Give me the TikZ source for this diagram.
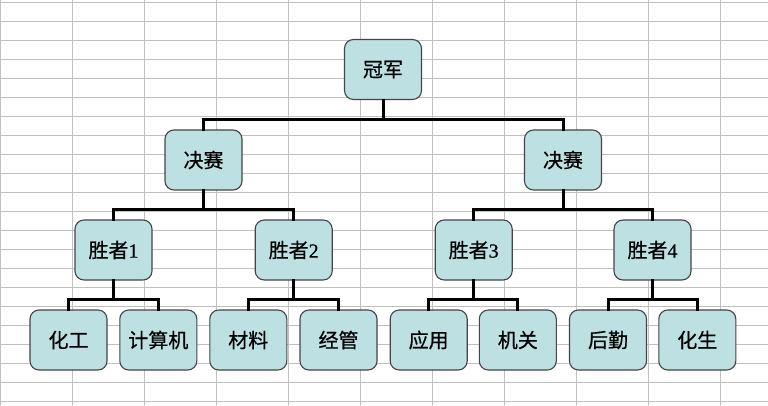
\documentclass[tikz,border=0pt]{standalone}
\usepackage{fontspec}
\setmainfont{Liberation Serif}
\newfontfamily\cjk[FakeBold=0.6]{Noto Sans CJK SC}
\newfontfamily\digitfont[FakeBold=0.6]{Liberation Serif}
\definecolor{boxfill}{HTML}{BDE0E3}
\definecolor{boxline}{HTML}{454545}
\definecolor{gridc}{HTML}{C0C0C0}
\begin{document}
\begin{tikzpicture}[x=1pt,y=-1pt,
  team/.style={draw=boxline,line width=1.1pt,fill=boxfill,rounded corners=9pt,
    minimum width=77pt,minimum height=60pt,inner sep=0pt,
    font=\fontsize{20}{20}\selectfont\cjk},
  conn/.style={draw=black,line width=3pt,line cap=rect},
  gridline/.style={draw=gridc,line width=1.1pt}]
\useasboundingbox (0,0) rectangle (768,406);
\fill[white] (0,0) rectangle (768,406);
% grid
\foreach \k in {0,...,21} \draw[gridline] (0,2.7+19*\k) -- (768,2.7+19*\k);
\draw[gridline] (0.5,0) -- (0.5,406);
\foreach \k in {1,...,10} \draw[gridline] (72.04*\k+0.3,0) -- (72.04*\k+0.3,406);
% nodes
\node[team] (g) at (383,69.5) {冠军};
\node[team] (j1) at (203.5,160) {决赛};
\node[team] (j2) at (563,160) {决赛};
\node[team] (w1) at (113.5,250) {胜者\digitfont 1};
\node[team] (w2) at (293.7,250) {胜者\digitfont 2};
\node[team] (w3) at (473.7,250) {胜者\digitfont 3};
\node[team] (w4) at (652.5,250) {胜者\digitfont 4};
\node[team] (l1) at (68.5,340) {化工};
\node[team] (l2) at (158.3,340) {计算机};
\node[team] (l3) at (248.3,340) {材料};
\node[team] (l4) at (338.5,340) {经管};
\node[team] (l5) at (428.7,340) {应用};
\node[team] (l6) at (517.8,340) {机关};
\node[team] (l7) at (608,340) {后勤};
\node[team] (l8) at (697.3,340) {化生};
% connectors
\draw[conn] (g.south) -- (g.south |- 0,119.5) -| (j1.north);
\draw[conn] (g.south |- 0,119.5) -| (j2.north);
\draw[conn] (j1.south) -- (j1.south |- 0,210) -| (w1.north);
\draw[conn] (j1.south |- 0,210) -| (w2.north);
\draw[conn] (j2.south) -- (j2.south |- 0,210) -| (w3.north);
\draw[conn] (j2.south |- 0,210) -| (w4.north);
\draw[conn] (w1.south) -- (w1.south |- 0,299) -| (l1.north);
\draw[conn] (w1.south |- 0,299) -| (l2.north);
\draw[conn] (w2.south) -- (w2.south |- 0,299) -| (l3.north);
\draw[conn] (w2.south |- 0,299) -| (l4.north);
\draw[conn] (w3.south) -- (w3.south |- 0,299) -| (l5.north);
\draw[conn] (w3.south |- 0,299) -| (l6.north);
\draw[conn] (w4.south) -- (w4.south |- 0,299) -| (l7.north);
\draw[conn] (w4.south |- 0,299) -| (l8.north);
\end{tikzpicture}
\end{document}
